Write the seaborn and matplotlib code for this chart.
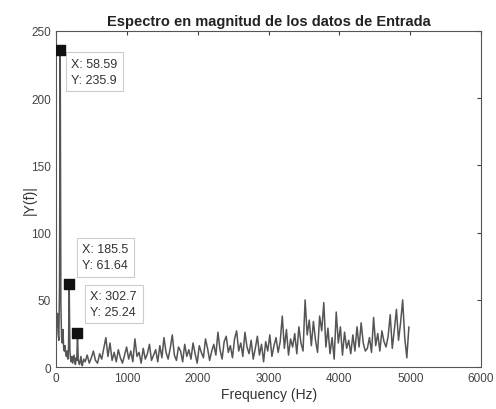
import numpy as np
import pandas as pd
import matplotlib
matplotlib.use("Agg")
import matplotlib.pyplot as plt
import seaborn as sns

# ---- data ----
df_hz = 10000 / 1024  # bin spacing (Hz)

# low-frequency bins 0..40 (every bin)
low_bins = list(range(0, 41))
low_vals = [38, 30, 40, 25, 20, 60, 235.9, 45, 22, 18,
            28, 14, 12, 16, 10, 8, 12, 6, 14, 61.64,
            12, 6, 4, 8, 3, 6, 9, 4, 2, 7,
            5, 25.24, 6, 3, 2, 5, 8, 3, 1, 4, 6]

# higher bins 42..510 (every 3rd bin)
high_bins = list(range(42, 511, 3))
high_vals = [4, 9, 3, 7, 12, 5, 3, 10, 6, 14,
             22, 8, 18, 5, 11, 4, 13, 7, 3, 9,
             15, 6, 12, 4, 21, 8, 11, 3, 14, 6,
             10, 17, 5, 9, 13, 4, 16, 7, 22, 11,
             6, 14, 24, 9, 5, 15, 12, 4, 17, 8,
             13, 6, 18, 10, 3, 16, 11, 7, 21, 14,
             5, 12, 17, 9, 26, 13, 6, 19, 23, 11,
             16, 7, 21, 27, 12, 18, 8, 26, 15, 10,
             20, 6, 14, 23, 9, 17, 4, 19, 12, 24,
             8, 16, 22, 11, 19, 38, 14, 28, 9, 21,
             15, 25, 10, 30, 18, 12, 50, 24, 35, 16,
             34, 20, 11, 38, 27, 48, 15, 29, 10, 22,
             6, 41, 18, 30, 9, 26, 14, 20, 10, 24,
             12, 30, 15, 33, 18, 12, 14, 22, 11, 37,
             16, 25, 12, 27, 19, 15, 23, 39, 14, 28,
             43, 20, 33, 50, 22, 7, 30]

tip_x = [58.59, 185.5, 302.7]
tip_y = [235.9, 61.64, 25.24]

x_ticks = [0, 1000, 2000, 3000, 4000, 5000, 6000]
y_ticks = [0, 50, 100, 150, 200, 250]

bins = low_bins + high_bins
data = pd.DataFrame({"f": np.array(bins) * df_hz, "mag": low_vals + high_vals})

# ---- plot ----
sns.set_style("white")
plt.rcParams["font.family"] = ["Liberation Sans", "DejaVu Sans"]

fig = plt.figure(figsize=(4.96, 4.10), dpi=100)
ax = fig.add_axes([0.113, 0.102, 0.857, 0.820])

sns.lineplot(data=data, x="f", y="mag", ax=ax, color="#555555", linewidth=1.1,
             estimator=None, sort=False)

ax.set_xlim(0, 6000)
ax.set_ylim(0, 250)
ax.set_xticks(x_ticks)
ax.set_yticks(y_ticks)
ax.tick_params(direction="in", length=3, width=0.8, colors="#404040",
               labelsize=8.5, top=True, right=True, labelcolor="#444444")
for s in ax.spines.values():
    s.set_visible(True)
    s.set_color("#555555")
    s.set_linewidth(0.8)

ax.set_title("Espectro en magnitud de los datos de Entrada", fontsize=10.5,
             fontweight="bold", color="#222222", pad=4)
ax.set_xlabel("Frequency (Hz)", fontsize=10, color="#333333", labelpad=2)
ax.set_ylabel("|Y(f)|", fontsize=10, color="#333333")
ax.yaxis.set_label_coords(-0.045, 0.5)

# data tips
ax.scatter(tip_x, tip_y, marker="s", s=42, color="#111111", zorder=5)
offsets = [(11, -8), (13, 41), (13, 43)]
for xv, yv, off in zip(tip_x, tip_y, offsets):
    ax.annotate(f"X: {xv:g}\nY: {yv:g}", xy=(xv, yv), xytext=off,
                textcoords="offset pixels", ha="left", va="top",
                fontsize=9, color="#333333", linespacing=1.4,
                bbox=dict(boxstyle="square,pad=0.45", fc="white",
                          ec="#cccccc", lw=0.8))

fig.savefig("out.png", dpi=100, facecolor="white")
